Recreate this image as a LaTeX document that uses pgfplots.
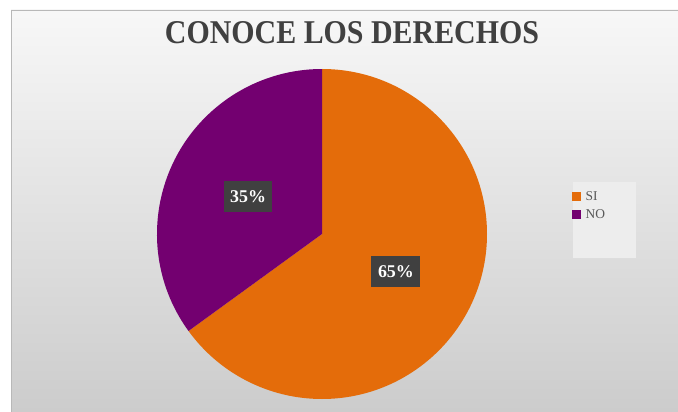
\documentclass[border=0pt]{standalone}
\usepackage{pgfplots}
\pgfplotsset{compat=1.18}
\usepackage{pgfplotstable}
\usepackage{fontspec}
\setmainfont{Liberation Serif}
\definecolor{orangeC}{HTML}{E46C0A}
\definecolor{purpleC}{HTML}{730070}
\definecolor{titleC}{HTML}{404040}
\definecolor{lblC}{HTML}{404040}
\definecolor{legC}{HTML}{595959}

\pgfplotstableread{
label value
SI 65
NO 35
}\piedata
\pgfplotstablegetelem{0}{value}\of\piedata \let\valA\pgfplotsretval
\pgfplotstablegetelem{1}{value}\of\piedata \let\valB\pgfplotsretval
\pgfmathsetmacro{\angA}{\valA*3.6}
\pgfmathsetmacro{\angB}{\valB*3.6}
\pgfmathsetmacro{\startB}{90-\angA}
\pgfmathsetmacro{\midA}{90-\angA/2}
\pgfmathsetmacro{\midB}{90-\angA-\angB/2}

\begin{document}
\begin{tikzpicture}
\begin{axis}[
  x=1bp, y=1bp, xmin=0, xmax=678, ymin=0, ymax=412,
  hide axis, clip=false, scale only axis, anchor=origin, at={(0,0)},
  legend cell align=left,
  legend style={at={(axis cs:571,224)}, anchor=north west, fill=none, draw=none,
    font=\fontsize{13.5}{15}\selectfont, text=legC, row sep=4bp, inner sep=1bp,
    nodes={inner xsep=5bp}},
]
% background
\fill[white] (axis cs:0,0) rectangle (axis cs:678,412);
\shade[top color=black!3, middle color=black!10, bottom color=black!20] (axis cs:11,0) rectangle (axis cs:678,402);
\draw[black!28, line width=0.8bp] (axis cs:11,0) -- (axis cs:11,402) -- (axis cs:678,402);
% legend box
\fill[black!7] (axis cs:573,154) rectangle (axis cs:636,230);
% pie
\fill[orangeC] (axis cs:322,178) -- ++(90:165bp) arc[start angle=90, delta angle=-\angA, radius=165bp] -- cycle;
\fill[purpleC] (axis cs:322,178) -- ++(\startB:165bp) arc[start angle=\startB, delta angle=-\angB, radius=165bp] -- cycle;
% data labels
\path (axis cs:322,178) ++(\midA:83bp) node[fill=lblC, text=white, font=\bfseries\fontsize{18}{20}\selectfont, minimum width=49bp, minimum height=31bp, inner sep=0pt] {\valA\%};
\path (axis cs:322,178) ++(\midB:83bp) node[fill=lblC, text=white, font=\bfseries\fontsize{18}{20}\selectfont, minimum width=48bp, minimum height=31bp, inner sep=0pt] {\valB\%};
% title
\node[anchor=base, text=titleC, inner sep=0pt] at (axis cs:352,369) {\resizebox{374bp}{22bp}{\bfseries CONOCE LOS DERECHOS}};
\addlegendimage{legend image code/.code={\fill[orangeC] (0bp,-3.5bp) rectangle (8bp,4.5bp);}}
\addlegendentry{SI}
\addlegendimage{legend image code/.code={\fill[purpleC] (0bp,-3.5bp) rectangle (8bp,4.5bp);}}
\addlegendentry{NO}
\end{axis}
\pgfresetboundingbox
\path[use as bounding box] (0,0) rectangle (678bp,412bp);
\end{tikzpicture}
\end{document}
